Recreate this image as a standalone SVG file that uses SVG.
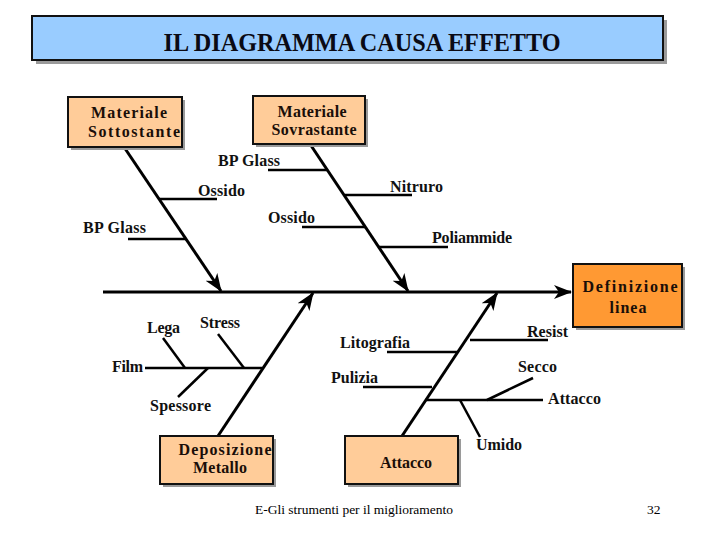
<svg xmlns="http://www.w3.org/2000/svg" width="720" height="540" viewBox="0 0 720 540">
<style>
.box{fill:#FFCC99;stroke:#111;stroke-width:2}
.eff{fill:#FF9933;stroke:#111;stroke-width:2}
.sh{fill:#9a9a9a}
text{font-family:"Liberation Serif","Times New Roman",Times,"DejaVu Serif",serif}
.bt{font-weight:bold;font-size:16px;fill:#1a0e08;text-anchor:middle}
.lb{font-weight:bold;font-size:16px;fill:#111}
.ln{stroke:#000;stroke-width:3;fill:none}
.sb{stroke:#000;stroke-width:2.5;fill:none}
.ft{font-size:13.5px;fill:#000}
.tt{font-size:24.5px;font-weight:bold;fill:#0a0a14;text-anchor:middle}
</style>
<defs>
<marker id="arr" markerUnits="userSpaceOnUse" markerWidth="18" markerHeight="14" viewBox="0 0 18 14" refX="17" refY="7" orient="auto">
<path d="M0,0 L18,7 L0,14 L5,7 z" fill="#000"/>
</marker>
</defs>
<rect width="720" height="540" fill="#fff"/>
<g id="title">
<rect class="sh" x="36" y="20" width="631" height="44"/>
<rect x="32" y="16" width="631" height="44" fill="#99CCFF" stroke="#111" stroke-width="2"/>
<text class="tt" x="362" y="51" textLength="397" lengthAdjust="spacingAndGlyphs">IL DIAGRAMMA CAUSA EFFETTO</text>
</g>
<g id="connectors">
<line class="ln" x1="103" y1="292" x2="571" y2="292" marker-end="url(#arr)"/>
<line class="ln" x1="124" y1="147" x2="221" y2="291" marker-end="url(#arr)"/>
<line class="ln" x1="310" y1="144" x2="408" y2="291" marker-end="url(#arr)"/>
<line class="ln" x1="218" y1="436" x2="313" y2="293" marker-end="url(#arr)"/>
<line class="ln" x1="402" y1="436" x2="497" y2="293" marker-end="url(#arr)"/>
<line class="sb" x1="159" y1="199" x2="217" y2="199"/>
<line class="sb" x1="128" y1="239" x2="186" y2="239"/>
<line class="sb" x1="268" y1="170" x2="327" y2="170"/>
<line class="sb" x1="345" y1="195" x2="412" y2="195"/>
<line class="sb" x1="302" y1="227" x2="365" y2="227"/>
<line class="sb" x1="378" y1="247" x2="448" y2="247"/>
<line class="sb" x1="145" y1="368" x2="262" y2="368"/>
<line class="sb" x1="163" y1="338" x2="185" y2="368"/>
<line class="sb" x1="218" y1="334" x2="244" y2="368"/>
<line class="sb" x1="208" y1="368" x2="178" y2="397"/>
<line class="sb" x1="387" y1="352" x2="457" y2="352"/>
<line class="sb" x1="363" y1="387" x2="432" y2="387"/>
<line class="sb" x1="470" y1="340" x2="548" y2="340"/>
<line class="sb" x1="425" y1="400" x2="543" y2="400"/>
<line class="sb" x1="487" y1="400" x2="533" y2="378"/>
<line class="sb" x1="460" y1="400" x2="480" y2="437"/>
</g>
<g id="n-sottostante">
<rect class="sh" x="71" y="100" width="114" height="50"/>
<rect class="box" x="68" y="97" width="114" height="50"/>
<text class="bt" x="129" y="118" textLength="76">Materiale</text>
<text class="bt" x="134" y="137" textLength="92">Sottostante</text>
</g>
<g id="n-sovrastante">
<rect class="sh" x="256" y="99" width="112" height="48"/>
<rect class="box" x="253" y="96" width="112" height="48"/>
<text class="bt" x="312" y="117" textLength="69">Materiale</text>
<text class="bt" x="314" y="135" textLength="85">Sovrastante</text>
</g>
<g id="n-definizione">
<rect class="sh" x="576" y="267" width="109" height="63"/>
<rect class="eff" x="573" y="264" width="109" height="63"/>
<text class="bt" x="630" y="292" font-size="18" textLength="95">Definizione</text>
<text class="bt" x="628" y="313" font-size="18" textLength="37">linea</text>
</g>
<g id="n-deposizione">
<rect class="sh" x="163" y="439" width="113" height="48"/>
<rect class="box" x="160" y="436" width="113" height="48"/>
<text class="bt" x="225" y="455" textLength="93">Deposizione</text>
<text class="bt" x="220" y="473" textLength="54">Metallo</text>
</g>
<g id="n-attacco">
<rect class="sh" x="348" y="439" width="113" height="48"/>
<rect class="box" x="345" y="436" width="113" height="48"/>
<text class="bt" x="406" y="468" textLength="52">Attacco</text>
</g>
<g id="labels">
<text class="lb" x="198" y="196" textLength="47">Ossido</text>
<text class="lb" x="83" y="233" textLength="63">BP Glass</text>
<text class="lb" x="218" y="166" textLength="62">BP Glass</text>
<text class="lb" x="390" y="192" textLength="53">Nitruro</text>
<text class="lb" x="268" y="223" textLength="47">Ossido</text>
<text class="lb" x="432" y="243" textLength="80">Poliammide</text>
<text class="lb" x="147" y="333" textLength="33">Lega</text>
<text class="lb" x="200" y="328" textLength="40">Stress</text>
<text class="lb" x="112" y="372" textLength="31">Film</text>
<text class="lb" x="150" y="411" textLength="61">Spessore</text>
<text class="lb" x="340" y="348" textLength="70">Litografia</text>
<text class="lb" x="331" y="383" textLength="47">Pulizia</text>
<text class="lb" x="527" y="337" textLength="41">Resist</text>
<text class="lb" x="518" y="372" textLength="39">Secco</text>
<text class="lb" x="548" y="404" textLength="53">Attacco</text>
<text class="lb" x="476" y="450" textLength="46">Umido</text>
</g>
<g id="footer">
<text class="ft" x="255" y="514" textLength="198">E-Gli strumenti per il miglioramento</text>
<text class="ft" x="647" y="514">32</text>
</g>
</svg>
